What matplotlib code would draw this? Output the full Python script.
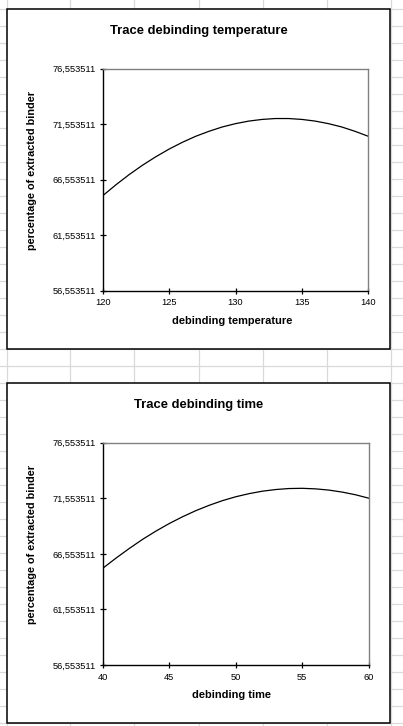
import matplotlib
matplotlib.use("Agg")
import matplotlib.pyplot as plt
from matplotlib.patches import Rectangle
from matplotlib.ticker import FixedLocator, FuncFormatter

plt.rcParams['font.family'] = ['Liberation Sans', 'DejaVu Sans']

# ---- data ----
temperature = [120, 121, 122, 123, 124, 125, 126, 127, 128, 129, 130,
               131, 132, 133, 134, 135, 136, 137, 138, 139, 140]
binder_vs_temperature = [65.10, 66.09, 67.01, 67.85, 68.61, 69.30, 69.91, 70.45,
                         70.90, 71.29, 71.59, 71.82, 71.97, 72.05, 72.05, 71.97,
                         71.82, 71.59, 71.29, 70.90, 70.45]
time = [40, 41, 42, 43, 44, 45, 46, 47, 48, 49, 50,
        51, 52, 53, 54, 55, 56, 57, 58, 59, 60]
binder_vs_time = [65.25, 66.17, 67.04, 67.86, 68.60, 69.28, 69.89, 70.44,
                  70.92, 71.34, 71.69, 71.97, 72.19, 72.34, 72.43, 72.45,
                  72.40, 72.29, 72.11, 71.87, 71.56]
y_ticks = [56.553511, 61.553511, 66.553511, 71.553511, 76.553511]
temp_ticks = [120, 125, 130, 135, 140]
time_ticks = [40, 45, 50, 55, 60]
titles = ["Trace debinding temperature", "Trace debinding time"]
x_labels = ["debinding temperature", "debinding time"]
y_label = "percentage of extracted binder"

W, H = 403, 726
fig = plt.figure(figsize=(W / 100, H / 100), dpi=100)

# background spreadsheet grid (pixel coordinates)
bg = fig.add_axes([0, 0, 1, 1])
bg.set_xlim(0, W)
bg.set_ylim(H, 0)
bg.axis('off')
grid_c = '#d9d9d9'
for xv in [6.7, 70.3, 134.3, 198.7, 262.7, 326.7, 390.7]:
    bg.plot([xv, xv], [0, H], color=grid_c, lw=0.9, zorder=0)
yv = 8.7
while yv < H:
    bg.plot([0, W], [yv, yv], color=grid_c, lw=0.9, zorder=0)
    yv += 17.0

panels = [(9.0, 349.3), (383.3, 723.3)]
for (top, bot) in panels:
    bg.add_patch(Rectangle((6.7, top), 390.3 - 6.7, bot - top,
                           facecolor='white', edgecolor='black', lw=1.1, zorder=2))

def fig_rect(x0, y0, x1, y1):
    return [x0 / W, 1 - y1 / H, (x1 - x0) / W, (y1 - y0) / H]

fmt = FuncFormatter(lambda v, p: f"{v:.6f}".replace('.', ','))

specs = [
    dict(rect=(102.7, 68.5, 368.3, 290.7), x=temperature, y=binder_vs_temperature,
         xt=temp_ticks, title_y=31, xl_y=321, yl_y=170),
    dict(rect=(102.7, 442.7, 368.8, 665.0), x=time, y=binder_vs_time,
         xt=time_ticks, title_y=405, xl_y=695.5, yl_y=544),
]

for i, s in enumerate(specs):
    ax = fig.add_axes(fig_rect(*s['rect']))
    ax.plot(s['x'], s['y'], color='black', lw=0.9)
    ax.set_xlim(s['xt'][0], s['xt'][-1])
    ax.set_ylim(y_ticks[0], y_ticks[-1])
    ax.yaxis.set_major_locator(FixedLocator(y_ticks))
    ax.yaxis.set_major_formatter(fmt)
    ax.xaxis.set_major_locator(FixedLocator(s['xt']))
    ax.tick_params(direction='inout', length=5, width=0.9, labelsize=6.7,
                   colors='black', pad=3)
    ax.tick_params(axis='y', pad=2.5)
    for sp in ['left', 'bottom']:
        ax.spines[sp].set_color('black')
        ax.spines[sp].set_linewidth(1.0)
    for sp in ['top', 'right']:
        ax.spines[sp].set_color('#808080')
        ax.spines[sp].set_linewidth(1.0)
    ax.set_facecolor('white')
    bg.text(198.5, s['title_y'], titles[i], ha='center', va='center',
            fontsize=9.4, fontweight='bold', zorder=5)
    bg.text(232, s['xl_y'], x_labels[i], ha='center', va='center',
            fontsize=7.9, fontweight='bold', zorder=5)
    bg.text(32, s['yl_y'], y_label, ha='center', va='center', rotation=90,
            fontsize=7.8, fontweight='bold', zorder=5)

fig.savefig('out.png', dpi=100)
